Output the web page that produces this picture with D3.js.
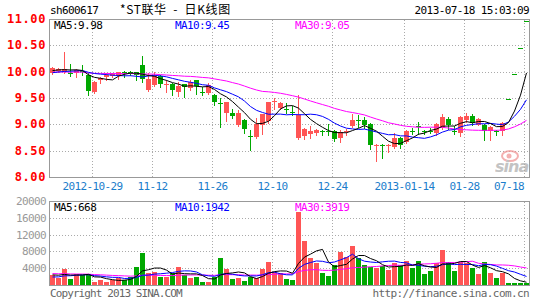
<!DOCTYPE html>
<meta charset="utf-8">
<head>
    <title>sh600617 日K线图</title>
    <script src="https://cdn.jsdelivr.net/npm/d3@7/dist/d3.min.js"></script>
</head>

<style>
    body { margin: 0; background: #fff; }
    svg { display: block; font-family: "DejaVu Sans Mono", monospace; font-size: 11px; letter-spacing: -0.6px; }
    .grid line { stroke: #aaa; stroke-dasharray: 1,2; shape-rendering: crispEdges; }
    .frame { fill: none; stroke: #999; shape-rendering: crispEdges; }
    .ma { fill: none; stroke-width: 1; }
</style>

<svg width="545" height="300"></svg>

<script>
    // daily candles, oldest first (80 sessions shown)
    var opens = [9.97, 10.02, 10.00, 9.98, 9.99, 10.02, 9.94, 9.62, 9.84, 9.90,
        9.92, 9.92, 10.00, 10.00, 9.99, 10.13, 9.65, 9.75, 9.91, 9.75,
        9.76, 9.60, 9.77, 9.69, 9.84, 9.61, 9.59, 9.56, 9.41, 9.21,
        9.22, 8.99, 9.08, 8.78, 8.75, 8.99, 9.05, 9.42, 9.32, 9.30,
        9.23, 8.75, 8.77, 8.82, 8.83, 8.88, 8.88, 8.87, 8.74, 8.86,
        8.96, 9.09, 9.08, 9.00, 8.59, 8.61, 8.60, 8.58, 8.75, 8.66,
        8.87, 8.97, 8.87, 8.88, 8.83, 8.93, 9.10, 8.87, 8.83, 9.08,
        9.16, 8.99, 8.98, 8.87, 8.87, 8.87, 9.48, 9.95, 10.45, 10.97];
    var highs = [10.09, 10.07, 10.38, 10.14, 10.06, 10.12, 9.97, 9.83, 9.90, 9.97,
        9.98, 10.00, 10.01, 10.01, 10.00, 10.29, 9.98, 10.00, 9.94, 9.84,
        9.78, 9.81, 9.77, 9.84, 9.84, 9.70, 9.78, 9.58, 9.50, 9.43,
        9.30, 9.28, 9.10, 8.89, 9.12, 9.19, 9.42, 9.50, 9.43, 9.40,
        9.34, 9.55, 8.93, 8.97, 8.91, 8.89, 9.00, 8.89, 8.90, 8.91,
        9.19, 9.17, 9.14, 9.02, 8.62, 8.62, 8.62, 8.84, 8.76, 8.89,
        8.93, 9.04, 8.90, 8.93, 9.02, 9.20, 9.14, 8.96, 9.15, 9.21,
        9.19, 9.12, 9.00, 8.96, 8.90, 9.05, 9.48, 9.95, 10.45, 10.97];
    var lows = [9.95, 10.00, 9.98, 9.91, 9.90, 9.93, 9.55, 9.60, 9.78, 9.85,
        9.90, 9.86, 9.89, 9.94, 9.85, 9.81, 9.63, 9.73, 9.70, 9.62,
        9.56, 9.53, 9.52, 9.66, 9.57, 9.56, 9.57, 9.37, 8.94, 9.07,
        9.12, 8.97, 8.84, 8.51, 8.74, 8.82, 9.03, 9.30, 9.30, 9.21,
        9.18, 8.73, 8.72, 8.74, 8.79, 8.80, 8.80, 8.68, 8.66, 8.80,
        8.94, 8.94, 8.93, 8.53, 8.30, 8.37, 8.48, 8.56, 8.56, 8.64,
        8.81, 8.81, 8.81, 8.83, 8.80, 8.91, 8.91, 8.81, 8.77, 9.05,
        8.98, 8.98, 8.70, 8.70, 8.80, 8.80, 9.48, 9.95, 10.45, 10.97];
    var closes = [10.07, 10.05, 10.05, 9.97, 10.04, 10.00, 9.64, 9.81, 9.88, 9.94,
        9.95, 9.99, 9.99, 9.99, 9.93, 9.86, 9.86, 9.92, 9.76, 9.77,
        9.65, 9.72, 9.71, 9.81, 9.72, 9.60, 9.75, 9.43, 9.40, 9.42,
        9.16, 9.22, 8.91, 8.77, 9.00, 9.19, 9.42, 9.44, 9.41, 9.29,
        9.22, 9.18, 8.91, 8.87, 8.89, 8.87, 8.87, 8.72, 8.86, 8.88,
        9.08, 9.08, 8.98, 8.60, 8.61, 8.60, 8.61, 8.75, 8.62, 8.87,
        8.86, 8.96, 8.86, 8.87, 9.00, 9.13, 8.98, 8.86, 9.13, 9.16,
        9.02, 9.10, 8.86, 8.94, 8.86, 9.03, 9.48, 9.95, 10.45, 10.97];
    var volumes = [2380, 1750, 3810, 1430, 2540, 2380, 2540, 790, 1190, 640,
        1190, 1590, 1190, 1980, 4370, 7700, 2940, 3180, 1980, 1980,
        2780, 4370, 2380, 1750, 1980, 790, 640, 1980, 6510, 3810,
        1430, 1750, 950, 1980, 1590, 3810, 5560, 3020, 2780, 1430,
        1190, 17300, 10480, 6350, 5320, 2940, 2220, 4760, 7940, 6750,
        9290, 6350, 4760, 4370, 4130, 4600, 3570, 5160, 4760, 5710,
        4130, 5710, 2540, 3330, 5160, 8330, 5560, 3330, 5560, 5160,
        4130, 2700, 5560, 2940, 1750, 2900, 110, 100, 100, 90];

    // sessions before the visible window (only feed the moving averages)
    var priorCloses = [9.95, 10.02, 10.08, 9.98, 10.05, 10.10, 10.03, 9.92, 9.96, 10.00,
        10.06, 9.94, 9.97, 10.01, 10.04, 9.90, 9.98, 10.03, 9.99, 9.89,
        9.90, 9.96, 9.92, 9.98, 9.94, 9.98, 10.03, 10.00, 10.02];
    var priorVolumes = [3400, 2900, 3600, 3100, 2700, 3300, 3800, 2600, 3000, 3500,
        2800, 3200, 3900, 2500, 3100, 2700, 3600, 3000, 2800, 3300,
        1500, 1300, 1200, 1400, 1600, 2200, 2800, 2300, 2400];

    var tickIndex = [7, 17, 27, 37, 47, 59, 69, 79];
    var tickLabels = ['2012-10-29', '11-12', '11-26', '12-10', '12-24', '2013-01-14', '01-28', '07-18'];
    var priceTicks = [8.00, 8.50, 9.00, 9.50, 10.00, 10.50, 11.00];
    var volumeTicks = [4000, 8000, 12000, 16000, 20000];
    var maPeriods = [5, 10, 30];
    var maColors = ['#000000', '#0000ff', '#ff00ff'];
    var priceMaLabels = ['MA5:9.98', 'MA10:9.45', 'MA30:9.05'];
    var volumeMaLabels = ['MA5:668', 'MA10:1942', 'MA30:3919'];

    var UP = '#ff5555', DOWN = '#00a800';
    var svg = d3.select('svg');

    // scales
    var x = d3.scaleBand().domain(d3.range(closes.length))
        .range([49.5, 529.5]).paddingInner(1 / 6).paddingOuter(1 / 12);
    var yP = d3.scaleLinear().domain([8, 11]).range([177, 19]);
    var yV = d3.scaleLinear().domain([0, 20000]).range([285, 201]);
    var cx = function (i) { return x(i) + 2.5; };
    var col = function (i) { return closes[i] > opens[i] ? UP : DOWN; };

    function movingAvg(prior, values, n) {
        var all = prior.concat(values), off = prior.length;
        return values.map(function (d, i) {
            return d3.mean(all.slice(off + i - n + 1, off + i + 1));
        });
    }

    // header
    svg.append('text').attr('x', 50).attr('y', 14).text('sh600617');
    svg.append('text').attr('x', 120).attr('y', 14)
        .style('font-family', '"Noto Sans CJK SC", sans-serif').style('font-size', '12px')
        .style('letter-spacing', '0.6px').attr('xml:space', 'preserve').text('*ST联华  -  日K线图');
    svg.append('text').attr('x', 529).attr('y', 14).attr('text-anchor', 'end').text('2013-07-18 15:03:09');

    // grids
    var grid = svg.append('g').attr('class', 'grid');
    grid.selectAll('.hp').data(priceTicks.slice(1, -1)).enter().append('line')
        .attr('x1', 50).attr('x2', 529)
        .attr('y1', function (d) { return Math.round(yP(d)) + 0.5; })
        .attr('y2', function (d) { return Math.round(yP(d)) + 0.5; });
    grid.selectAll('.hv').data(volumeTicks.slice(0, -1)).enter().append('line')
        .attr('x1', 50).attr('x2', 529)
        .attr('y1', function (d) { return Math.round(yV(d)) + 0.5; })
        .attr('y2', function (d) { return Math.round(yV(d)) + 0.5; });
    tickIndex.forEach(function (i) {
        grid.append('line').attr('x1', x(i) + 0.5).attr('x2', x(i) + 0.5).attr('y1', 20).attr('y2', 177);
        grid.append('line').attr('x1', x(i) + 0.5).attr('x2', x(i) + 0.5).attr('y1', 202).attr('y2', 285);
    });

    // axis labels
    svg.selectAll('.pl').data(priceTicks).enter().append('text')
        .attr('x', 46).attr('y', function (d) { return Math.round(yP(d)) + 4; })
        .attr('text-anchor', 'end').attr('fill', '#ff0000')
        .style('font-size', '12px').style('font-weight', 'bold').style('letter-spacing', '0.6px')
        .text(function (d) { return d.toFixed(2); });
    svg.selectAll('.vl').data(volumeTicks).enter().append('text')
        .attr('x', 46).attr('y', function (d) { return Math.round(yV(d)) + 4; })
        .attr('text-anchor', 'end').attr('fill', '#999')
        .text(function (d) { return d; });
    svg.selectAll('.dl').data(tickIndex).enter().append('text')
        .attr('x', function (d, k) { return k === tickIndex.length - 1 ? x(d) : x(d) + 0.5; })
        .attr('y', 190).attr('fill', '#1a7dcb')
        .attr('text-anchor', function (d, k) { return k === tickIndex.length - 1 ? 'end' : 'middle'; })
        .text(function (d, k) { return tickLabels[k]; });

    // watermark
    var wm = svg.append('g').attr('opacity', 0.7);
    wm.append('ellipse').attr('cx', 510).attr('cy', 156).attr('rx', 8).attr('ry', 5)
        .attr('fill', 'none').attr('stroke', '#f09090').attr('stroke-width', 2);
    wm.append('circle').attr('cx', 509).attr('cy', 156).attr('r', 2.5).attr('fill', '#f09090');
    wm.append('text').attr('x', 495).attr('y', 172).attr('fill', '#aaa')
        .style('font-family', '"DejaVu Sans", sans-serif').style('font-size', '16px')
        .style('font-weight', 'bold').style('font-style', 'italic').style('letter-spacing', '-1px')
        .text('sina');

    // candles
    var idx = d3.range(closes.length);
    var candles = svg.append('g').attr('shape-rendering', 'crispEdges');
    candles.selectAll('line').data(idx).enter().append('line')
        .attr('x1', cx).attr('x2', cx)
        .attr('y1', function (i) { return Math.round(yP(highs[i])); })
        .attr('y2', function (i) { return Math.round(yP(lows[i])) + 1; })
        .attr('stroke', col);
    candles.selectAll('rect').data(idx).enter().append('rect')
        .attr('x', function (i) { return x(i); })
        .attr('width', x.bandwidth())
        .attr('y', function (i) { return Math.round(yP(Math.max(opens[i], closes[i]))); })
        .attr('height', function (i) {
            return Math.max(1, Math.round(Math.abs(yP(opens[i]) - yP(closes[i]))));
        })
        .attr('fill', col);

    // volume bars
    svg.append('g').attr('shape-rendering', 'crispEdges')
        .selectAll('rect').data(idx).enter().append('rect')
        .attr('x', function (i) { return x(i); })
        .attr('width', x.bandwidth())
        .attr('y', function (i) { return Math.min(283, Math.round(yV(volumes[i]))); })
        .attr('height', function (i) { return 285 - Math.min(283, Math.round(yV(volumes[i]))); })
        .attr('fill', col);

    // moving averages
    var lineP = d3.line().x(function (d, i) { return cx(i); }).y(function (d) { return yP(d); });
    var lineV = d3.line().x(function (d, i) { return cx(i); }).y(function (d) { return yV(d); });
    maPeriods.slice().reverse().forEach(function (n) {
        var k = maPeriods.indexOf(n);
        svg.append('path').attr('class', 'ma').attr('stroke', maColors[k])
            .attr('d', lineP(movingAvg(priorCloses, closes, n)));
        svg.append('path').attr('class', 'ma').attr('stroke', maColors[k])
            .attr('d', lineV(movingAvg(priorVolumes, volumes, n)));
    });

    // frames
    svg.append('rect').attr('class', 'frame').attr('x', 49.5).attr('y', 19.5).attr('width', 480).attr('height', 158);
    svg.append('rect').attr('class', 'frame').attr('x', 49.5).attr('y', 201.5).attr('width', 480).attr('height', 84);

    // legends
    var legX = [54, 175, 295];
    svg.selectAll('.lp').data(priceMaLabels).enter().append('text')
        .attr('x', function (d, k) { return legX[k]; }).attr('y', 29)
        .attr('fill', function (d, k) { return maColors[k]; }).text(function (d) { return d; });
    svg.selectAll('.lv').data(volumeMaLabels).enter().append('text')
        .attr('x', function (d, k) { return legX[k]; }).attr('y', 211)
        .attr('fill', function (d, k) { return maColors[k]; }).text(function (d) { return d; });

    // footer
    svg.append('text').attr('x', 50).attr('y', 297).attr('fill', '#666')
        .style('letter-spacing', '-0.9px').text('Copyright 2013 SINA.COM');
    svg.append('text').attr('x', 529).attr('y', 297).attr('text-anchor', 'end').attr('fill', '#666')
        .text('http://finance.sina.com.cn');
</script>
